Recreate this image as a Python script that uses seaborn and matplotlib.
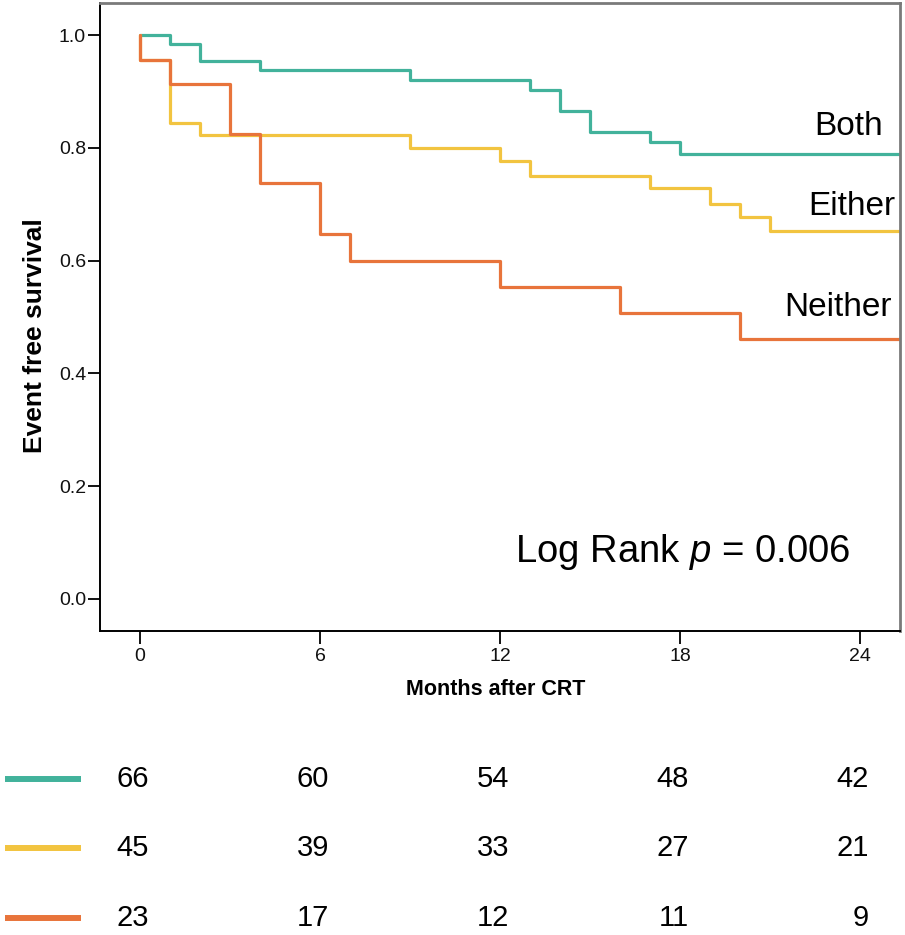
import numpy as np
import pandas as pd
import matplotlib
matplotlib.use("Agg")
import matplotlib.pyplot as plt
import seaborn as sns

# Kaplan-Meier steps (months, survival)
both_t = [0, 1, 2, 4, 9, 13, 14, 15, 17, 18, 25.5]
both_s = [1.0, 0.985, 0.954, 0.939, 0.921, 0.902, 0.866, 0.828, 0.810, 0.789, 0.789]
either_t = [0, 0, 1, 2, 9, 12, 13, 17, 19, 20, 21, 25.5]
either_s = [1.0, 0.956, 0.844, 0.822, 0.799, 0.777, 0.751, 0.728, 0.701, 0.677, 0.652, 0.652]
neither_t = [0, 0, 1, 3, 4, 6, 7, 12, 16, 20, 25.5]
neither_s = [1.0, 0.956, 0.913, 0.825, 0.738, 0.647, 0.600, 0.554, 0.507, 0.461, 0.461]

groups = ["Both", "Either", "Neither"]
colors = {"Both": "#42b29b", "Either": "#f2c440", "Neither": "#e8743b"}

# number at risk table
risk_times = [0, 6, 12, 18, 24]
risk_both = [66, 60, 54, 48, 42]
risk_either = [45, 39, 33, 27, 21]
risk_neither = [23, 17, 12, 11, 9]

df = pd.concat([
    pd.DataFrame({"t": both_t, "s": both_s, "group": "Both"}),
    pd.DataFrame({"t": either_t, "s": either_s, "group": "Either"}),
    pd.DataFrame({"t": neither_t, "s": neither_s, "group": "Neither"}),
], ignore_index=True)

sns.set_theme(style="white")
plt.rcParams["font.family"] = ["Liberation Sans", "DejaVu Sans"]
plt.rcParams["text.color"] = "black"
plt.rcParams["axes.labelcolor"] = "black"
plt.rcParams["mathtext.fontset"] = "custom"
plt.rcParams["mathtext.rm"] = "Liberation Sans"
plt.rcParams["mathtext.it"] = "Liberation Sans:italic"
narrow = ["Liberation Sans Narrow", "Liberation Sans", "DejaVu Sans"]

fig = plt.figure(figsize=(9.05, 9.35), dpi=100)
L, W = 100 / 905, 800 / 905
ax = fig.add_axes([L, 1 - 631 / 935, W, 628 / 935])

sns.lineplot(data=df, x="t", y="s", hue="group", hue_order=groups, palette=colors,
             drawstyle="steps-post", sort=False, estimator=None, legend=False,
             linewidth=2.3, ax=ax)

ax.set_xlim(-1.33, 25.33)
ax.set_ylim(-0.057, 1.057)
ax.set_xticks(risk_times)
ax.set_yticks([0.0, 0.2, 0.4, 0.6, 0.8, 1.0])
ax.set_yticklabels(["0.0", "0.2", "0.4", "0.6", "0.8", "1.0"])
for lab in ax.get_xticklabels() + ax.get_yticklabels():
    lab.set_family(narrow)
    lab.set_fontsize(14)
    lab.set_color("#111111")
ax.tick_params(axis="both", direction="out", length=9, width=1.3, color="black",
               left=True, bottom=True)
ax.tick_params(axis="y", pad=1)
ax.tick_params(axis="x", pad=3)

for side in ["left", "bottom"]:
    ax.spines[side].set_color("black")
    ax.spines[side].set_linewidth(1.4)
for side in ["top", "right"]:
    ax.spines[side].set_color("#7a7a7a")
    ax.spines[side].set_linewidth(2.0)

ax.set_xlabel("Months after CRT", fontsize=15.5, fontweight="bold")
ax.set_ylabel("Event free survival", fontsize=19, fontweight="bold")
ax.xaxis.set_label_coords(0.494, -0.077)
ax.yaxis.set_label_coords(-0.066, 0.471)

ax.text(24.77, 0.838, "Both", fontsize=24, ha="right", va="center")
ax.text(25.17, 0.696, "Either", fontsize=24, ha="right", va="center")
ax.text(25.07, 0.517, "Neither", fontsize=24, ha="right", va="center")
ax.text(23.67, 0.083, r"Log Rank $p$ = 0.006", fontsize=27.5, ha="right", va="center")

# number at risk below the plot
axr = fig.add_axes([L, 0.0, W, 0.2])
axr.set_xlim(ax.get_xlim())
axr.set_ylim(-0.25, 2.45)
axr.axis("off")
rows = [risk_both, risk_either, risk_neither]
for i, (g, vals) in enumerate(zip(groups, rows)):
    y = 2 - i
    axr.plot([-4.5, -1.97], [y, y], color=colors[g], linewidth=4.3,
             solid_capstyle="butt", clip_on=False)
    for t, v in zip(risk_times, vals):
        axr.text(t + 0.3, y, str(v), fontsize=21, family=narrow,
                 ha="right", va="center", color="black")

fig.savefig("out.png", dpi=100)
